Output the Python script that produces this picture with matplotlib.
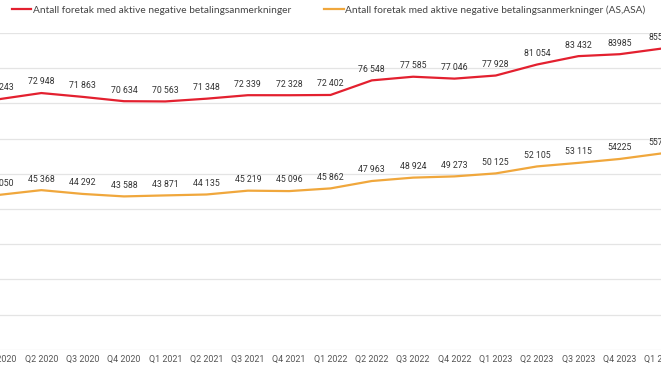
import matplotlib
matplotlib.use('Agg')
import matplotlib.pyplot as plt

# quarters and values
quarters = ['Q1 2020', 'Q2 2020', 'Q3 2020', 'Q4 2020',
            'Q1 2021', 'Q2 2021', 'Q3 2021', 'Q4 2021',
            'Q1 2022', 'Q2 2022', 'Q3 2022', 'Q4 2022',
            'Q1 2023', 'Q2 2023', 'Q3 2023', 'Q4 2023', 'Q1 2024']
alle = [71243, 72948, 71863, 70634, 70563, 71348, 72339, 72328,
        72402, 76548, 77585, 77046, 77928, 81054, 83432, 83985, 85560]
as_asa = [44050, 45368, 44292, 43588, 43871, 44135, 45219, 45096,
          45862, 47963, 48924, 49273, 50125, 52105, 53115, 54225, 55780]
# the source writes some labels without a thousands space
no_space = {'83985', '54225', '85560', '55780'}

name_alle = 'Antall foretak med aktive negative betalingsanmerkninger'
name_as = 'Antall foretak med aktive negative betalingsanmerkninger (AS,ASA)'

red = '#e3202f'
orange = '#f0a73c'

def fmt(v):
    s = str(v)
    if s in no_space:
        return s
    return '{:,}'.format(v).replace(',', ' ')

fig = plt.figure(figsize=(6.61, 3.71), dpi=100)
ax = fig.add_axes([0, 0.057, 1, 0.854])

x = list(range(len(quarters)))
ax.plot(x, alle, color=red, lw=1.6, label=name_alle, clip_on=False)
ax.plot(x, as_asa, color=orange, lw=1.6, label=name_as, clip_on=False)

for xi, v in zip(x, alle):
    ax.annotate(fmt(v), (xi, v), xytext=(0, 8), textcoords='offset points',
                ha='center', va='center', fontsize=6.3, color='#333333',
                family='Roboto', annotation_clip=False)
for xi, v in zip(x, as_asa):
    ax.annotate(fmt(v), (xi, v), xytext=(0, 8), textcoords='offset points',
                ha='center', va='center', fontsize=6.3, color='#333333',
                family='Roboto', annotation_clip=False)

ax.set_xlim(0, len(quarters) - 1)
ax.set_ylim(0, 90000)
ax.set_yticks(range(0, 90001, 10000))
ax.set_yticklabels([])
ax.set_xticks(x)
ax.set_xticklabels(quarters, family='Roboto', fontsize=6.4, color='#555555')
ax.tick_params(axis='both', length=0, pad=4)
ax.grid(axis='y', color='#e4e4e4', lw=0.9)
ax.set_axisbelow(True)
for s in ax.spines.values():
    s.set_visible(False)

fig.legend(loc='upper left', bbox_to_anchor=(0.004, 1.01), ncol=2, frameon=False,
           prop={'family': 'Lato', 'size': 7.3}, labelcolor='#444444',
           handlelength=1.9, handletextpad=0.15, columnspacing=3.3)

fig.savefig('out.png', dpi=100)
